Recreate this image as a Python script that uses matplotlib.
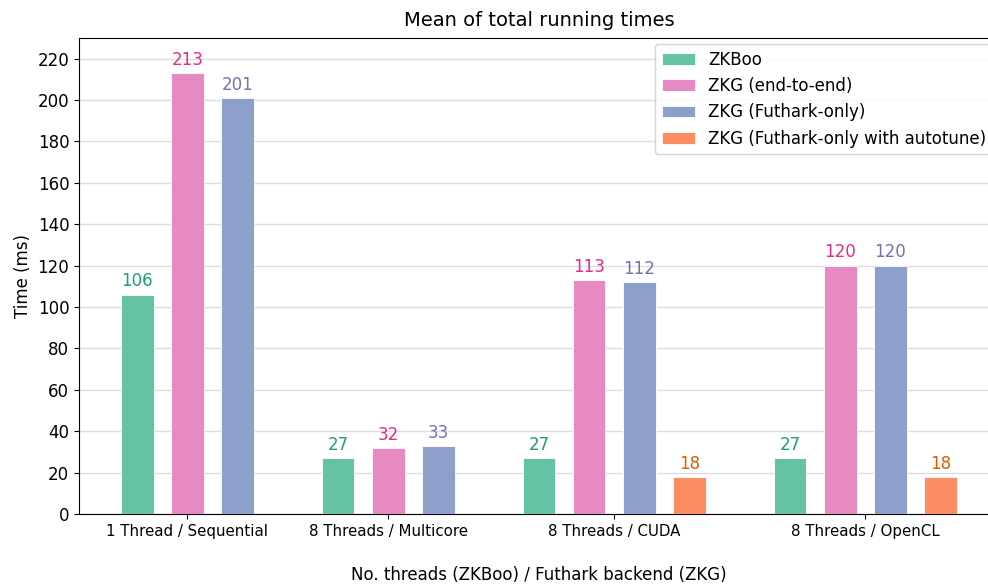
import matplotlib
matplotlib.use('Agg')
from matplotlib import pyplot as plt

groups = ['1 Thread / Sequential', '8 Threads / Multicore',
          '8 Threads / CUDA', '8 Threads / OpenCL']

zkboo = [106, 27, 27, 27]
zkg_e2e = [213, 32, 113, 120]
zkg_futhark = [201, 33, 112, 120]
zkg_autotune = [None, None, 18, 18]

series_names = ['ZKBoo', 'ZKG (end-to-end)', 'ZKG (Futhark-only)',
                'ZKG (Futhark-only with autotune)']
series_values = [zkboo, zkg_e2e, zkg_futhark, zkg_autotune]
bar_colors = ['#66c2a5', '#e78ac3', '#8da0cb', '#fc8d62']
text_colors = ['#1b9e77', '#e7298a', '#7570b3', '#d95f02']

fig = plt.figure(figsize=(9.88, 5.84), dpi=100)
ax = fig.add_axes([0.080, 0.1199, 1.011 - 0.080, 0.9349 - 0.1199])

# lay the bars out one slot apart, with an empty slot between groups
width = 0.65
pos = 0
group_centers = []
positions = [[] for _ in series_values]
for g in range(len(groups)):
    start = pos
    for s, vals in enumerate(series_values):
        if vals[g] is None:
            continue
        positions[s].append((pos, vals[g]))
        pos += 1
    group_centers.append((start + pos - 1) / 2)
    pos += 1

for s, name in enumerate(series_names):
    xs = [p for p, v in positions[s]]
    ys = [v for p, v in positions[s]]
    bars = ax.bar(xs, ys, width=width, color=bar_colors[s], label=name,
                  edgecolor='white', linewidth=0.6, zorder=3)
    ax.bar_label(bars, labels=[str(v) for v in ys], padding=3,
                 color=text_colors[s], fontsize=12)

ax.set_xlim(-1.16, 17.16)
ax.set_ylim(0, 230)
ax.set_yticks(range(0, 221, 20))
ax.tick_params(axis='y', labelsize=12)
ax.set_xticks(group_centers)
ax.set_xticklabels(groups, fontsize=10.8)
ax.grid(axis='y', color='#dddddd', linewidth=1, zorder=0)

ax.set_title('Mean of total running times', fontsize=14, pad=9)
ax.set_ylabel('Time (ms)', fontsize=12)
ax.set_xlabel('No. threads (ZKBoo) / Futhark backend (ZKG)', fontsize=12,
              labelpad=20)

ax.legend(loc='upper right', fontsize=12, handlelength=2.0,
          borderaxespad=0.35)

plt.savefig('out.png')
